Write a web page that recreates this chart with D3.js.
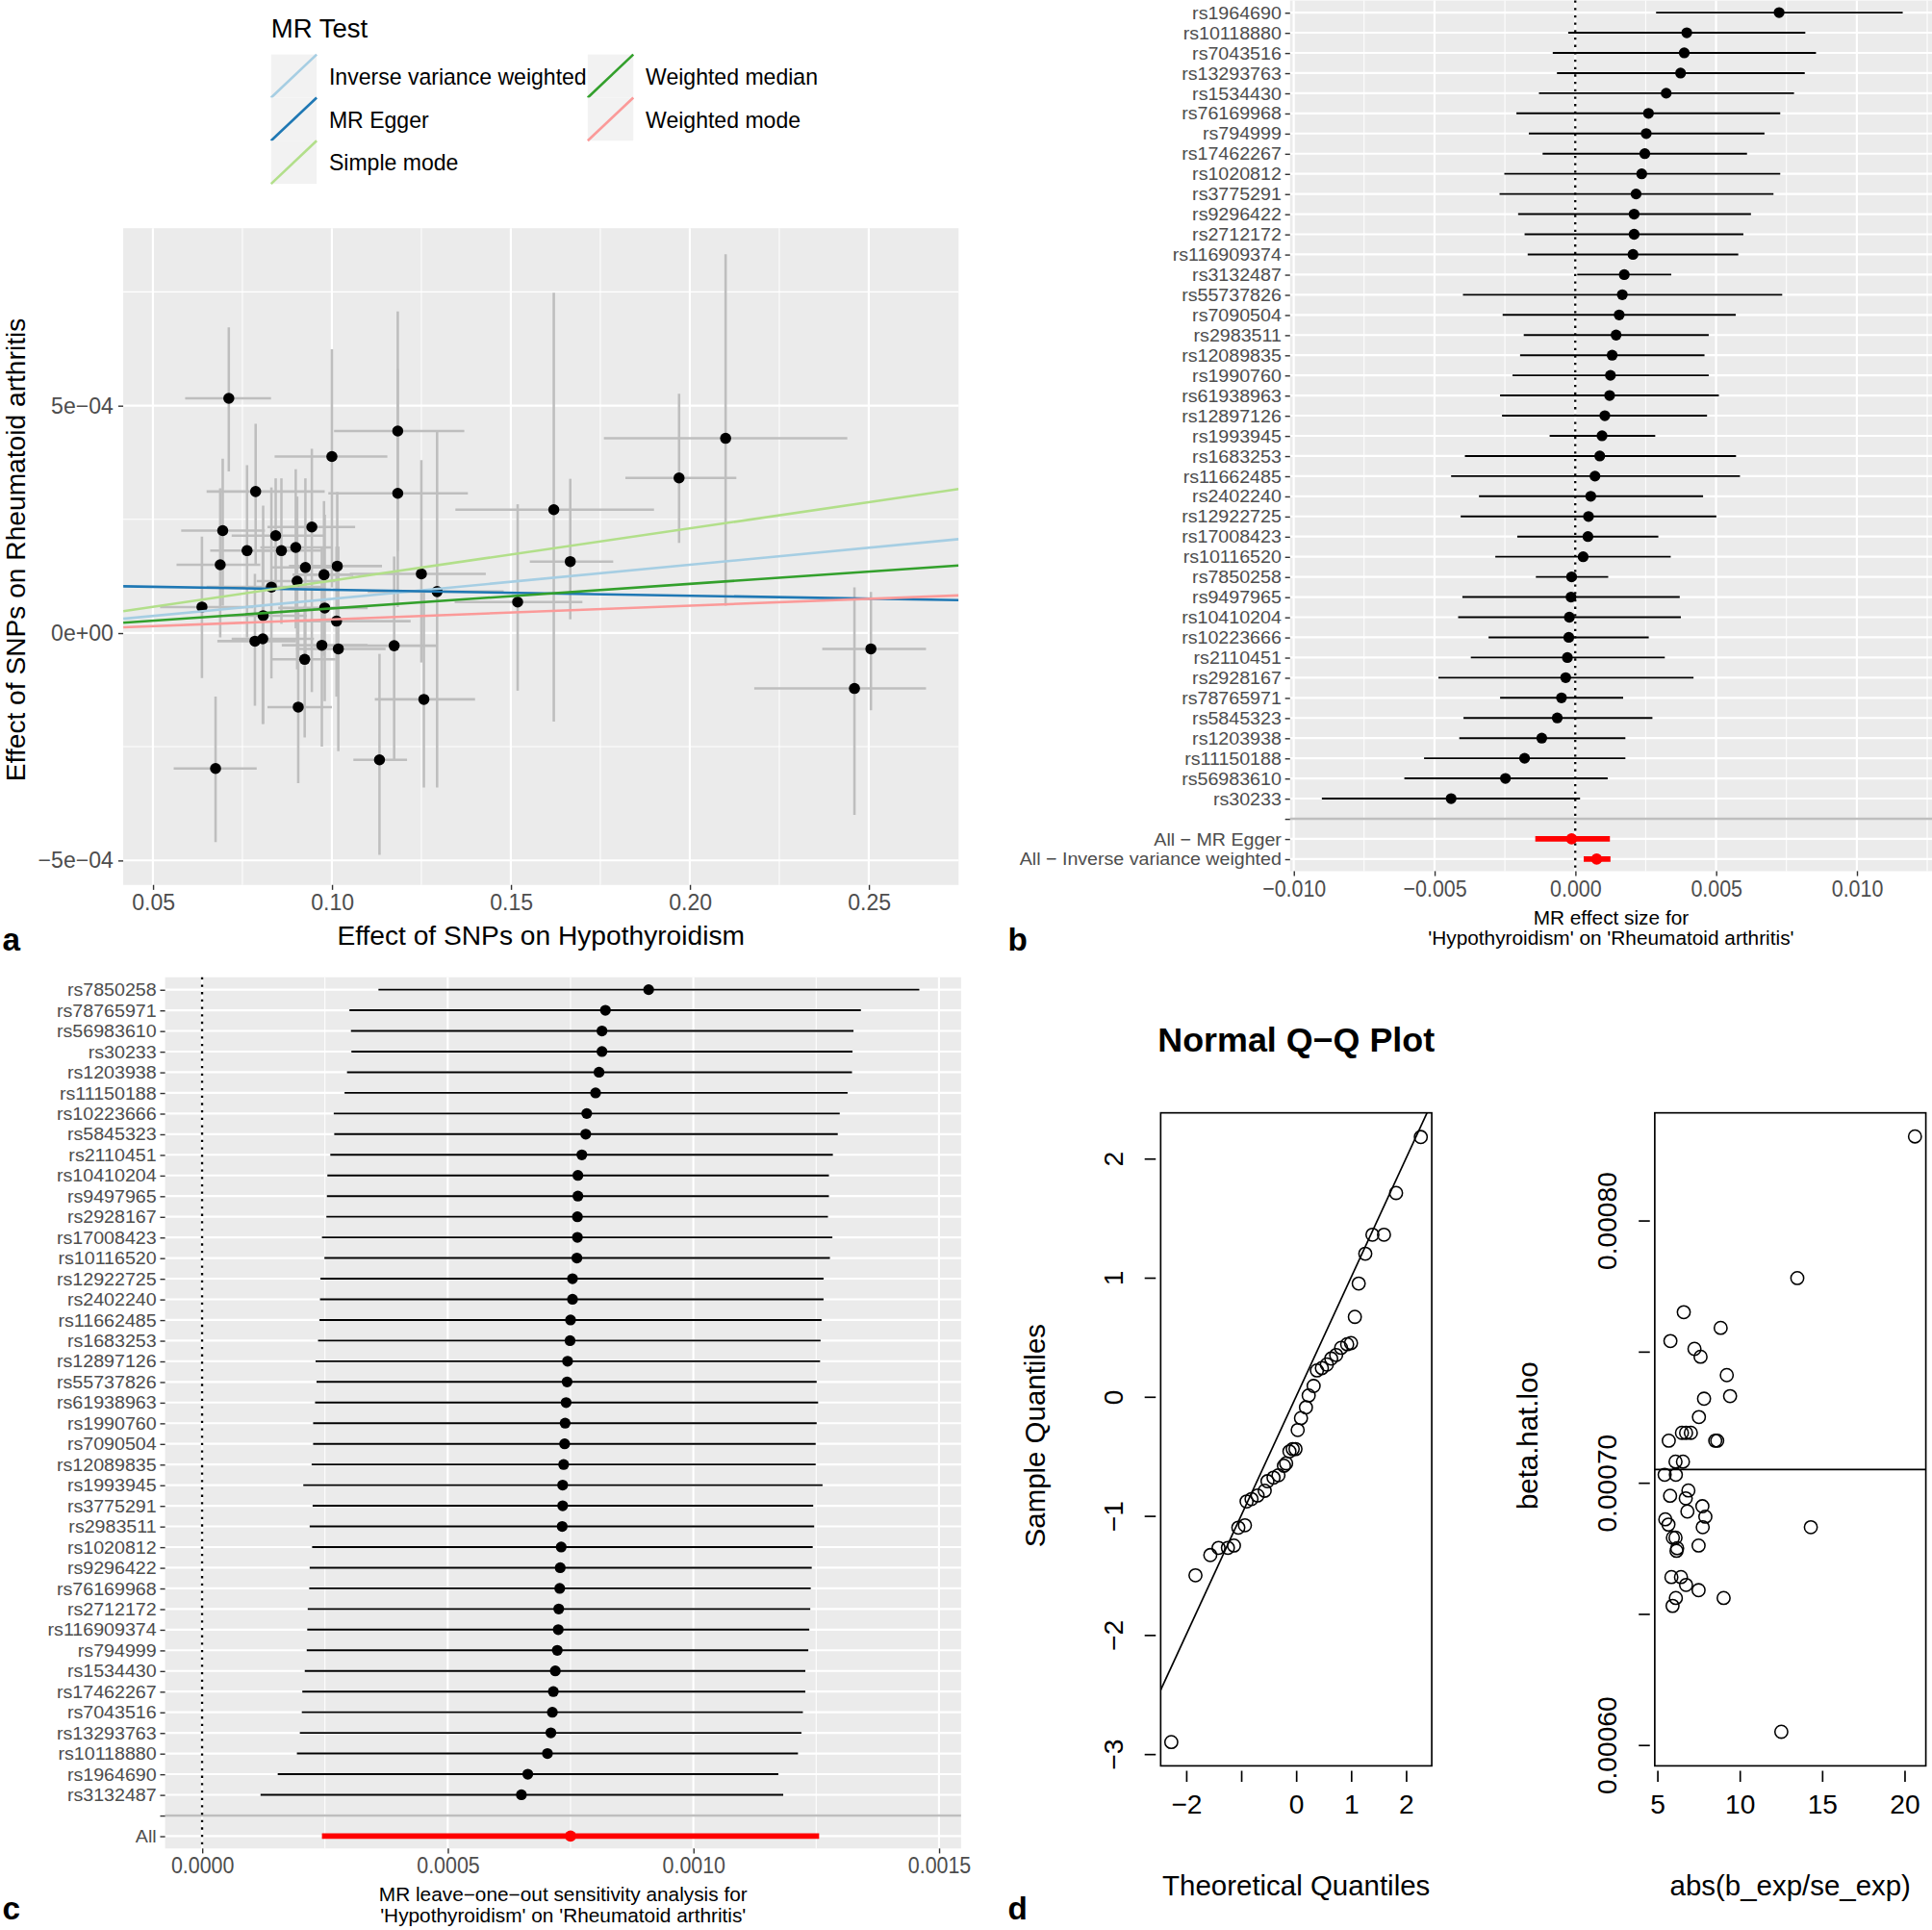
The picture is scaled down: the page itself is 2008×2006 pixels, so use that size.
<!DOCTYPE html>
<html>
<head>
<meta charset="utf-8">
<script src="https://cdn.jsdelivr.net/npm/d3@7"></script>
<style>
  body { margin: 0; background: #fff; }
</style>
</head>
<body>
<svg id="fig" width="2008" height="2006" viewBox="0 0 1568 1566"></svg>
<script>
// ---------- panel a : SNP scatter ----------
const aBx = [0.0712,0.0787,0.100,0.1184,0.1184,0.0695,0.0688,0.0763,0.0843,0.0859,0.0899,0.0944,0.0926,0.0903,0.0978,0.1015,0.0831,0.125,0.1294,0.0637,0.0808,0.098,0.1013,0.0785,0.0807,0.0972,0.1018,0.1174,0.0924,0.162,0.197,0.210,0.1666,0.1519,0.2506,0.246,0.1257,0.1133,0.0675,0.0906];
const aBy = [5.16e-4,3.11e-4,3.88e-4,4.44e-4,3.07e-4,2.25e-4,1.50e-4,1.81e-4,2.14e-4,1.81e-4,1.88e-4,2.33e-4,1.44e-4,1.14e-4,1.28e-4,1.47e-4,1.01e-4,1.30e-4,0.91e-4,0.57e-4,0.38e-4,0.55e-4,0.26e-4,-0.18e-4,-0.13e-4,-0.27e-4,-0.35e-4,-0.28e-4,-0.58e-4,2.71e-4,3.41e-4,4.28e-4,1.57e-4,0.68e-4,-0.35e-4,-1.22e-4,-1.46e-4,-2.79e-4,-2.98e-4,-1.63e-4];
const aXlo = [0.059,0.065,0.084,0.1006,0.099,0.0579,0.0566,0.066,0.072,0.075,0.080,0.082,0.083,0.079,0.089,0.088,0.065,0.105,0.110,0.052,0.070,0.085,0.090,0.068,0.072,0.086,0.090,0.095,0.083,0.1345,0.182,0.176,0.1553,0.1343,0.237,0.218,0.112,0.106,0.0558,0.082];
const aXhi = [0.083,0.098,0.1155,0.137,0.138,0.0813,0.080,0.088,0.098,0.097,0.100,0.1065,0.103,0.101,0.106,0.114,0.098,0.143,0.148,0.078,0.093,0.110,0.122,0.090,0.095,0.110,0.115,0.1293,0.101,0.190,0.213,0.244,0.1786,0.170,0.266,0.266,0.140,0.121,0.079,0.100];
const aYlo = [3.55e-4,1.5e-4,1.0e-4,1.8e-4,0.57e-4,0.6e-4,-0.1e-4,-0.1e-4,1.0e-4,0.2e-4,0.1e-4,-1.3e-4,-0.5e-4,-0.8e-4,-0.5e-4,-0.3e-4,-1.0e-4,-0.65e-4,-3.4e-4,-0.99e-4,-2.0e-4,-1.5e-4,-1.4e-4,-1.6e-4,-2.0e-4,-2.5e-4,-2.6e-4,-2.8e-4,-2.3e-4,-1.95e-4,1.98e-4,0.6e-4,0.3e-4,-1.27e-4,-1.7e-4,-4.0e-4,-3.4e-4,-4.88e-4,-4.6e-4,-3.3e-4];
const aYhi = [6.72e-4,4.6e-4,6.24e-4,7.07e-4,5.8e-4,3.83e-4,3.18e-4,3.69e-4,3.4e-4,3.4e-4,3.6e-4,4.05e-4,3.4e-4,3.0e-4,2.9e-4,3.1e-4,3.2e-4,3.8e-4,4.46e-4,2.12e-4,2.8e-4,2.6e-4,1.9e-4,1.3e-4,1.8e-4,1.9e-4,1.9e-4,1.68e-4,0.6e-4,7.48e-4,5.26e-4,8.33e-4,3.39e-4,2.83e-4,0.9e-4,1.0e-4,0.9e-4,-0.46e-4,-1.4e-4,0.5e-4];

const methodNames = ["Inverse variance weighted","MR Egger","Simple mode","Weighted median","Weighted mode"];
const methodSlope = [7.5e-4, -1.3e-4, 1.15e-3, 5.4e-4, 3.0e-4];
const methodIntercept = [0, 1.08e-4, 0, 0, 0];
const methodColors = ["#a6cee3","#1f78b4","#b2df8a","#33a02c","#fb9a99"];

const aXTicks = [0.05, 0.10, 0.15, 0.20, 0.25];
const aYTicks = [-5e-4, 0, 5e-4];

// ---------- panel b : single SNP forest ----------
const forestSnps = ["rs1964690","rs10118880","rs7043516","rs13293763","rs1534430","rs76169968","rs794999","rs17462267","rs1020812","rs3775291","rs9296422","rs2712172","rs116909374","rs3132487","rs55737826","rs7090504","rs2983511","rs12089835","rs1990760","rs61938963","rs12897126","rs1993945","rs1683253","rs11662485","rs2402240","rs12922725","rs17008423","rs10116520","rs7850258","rs9497965","rs10410204","rs10223666","rs2110451","rs2928167","rs78765971","rs5845323","rs1203938","rs11150188","rs56983610","rs30233"];
const forestB = [0.00724,0.00396,0.00387,0.00374,0.00323,0.0026,0.00252,0.00247,0.00236,0.00216,0.00209,0.00209,0.00205,0.00174,0.00167,0.00156,0.00145,0.00131,0.00125,0.00122,0.00105,0.00095,0.00087,0.0007,0.00055,0.00047,0.00045,0.00028,-0.00013,-0.00015,-0.00021,-0.00023,-0.00028,-0.00034,-0.00049,-0.00064,-0.00119,-0.0018,-0.00248,-0.00441];
const forestLo = [0.00287,-0.00025,-0.0008,-0.00065,-0.00129,-0.00209,-0.00165,-0.00116,-0.00252,-0.00269,-0.00203,-0.0018,-0.00169,0.00007,-0.00399,-0.00258,-0.00183,-0.00196,-0.00223,-0.00267,-0.0026,-0.00091,-0.00392,-0.00441,-0.00342,-0.00407,-0.00206,-0.00284,-0.0014,-0.00401,-0.00416,-0.00308,-0.00371,-0.00486,-0.00267,-0.00397,-0.00412,-0.00537,-0.00607,-0.009];
const forestHi = [0.01163,0.00817,0.00855,0.00815,0.00777,0.00728,0.00672,0.0061,0.00728,0.00704,0.00624,0.00597,0.00579,0.00341,0.00735,0.0057,0.00474,0.00459,0.00474,0.0051,0.00468,0.00284,0.00571,0.00585,0.00454,0.00501,0.00295,0.00339,0.00117,0.00371,0.00375,0.00261,0.00318,0.0042,0.0017,0.00274,0.00178,0.00178,0.00115,0.00017];
const allMethods = ["All \u2212 MR Egger","All \u2212 Inverse variance weighted"];
const allB = [-0.00013, 0.00076];
const allLo = [-0.00142, 0.0003];
const allHi = [0.00123, 0.00125];
const bXTicks = [-0.010, -0.005, 0, 0.005, 0.010];

// ---------- panel c : leave-one-out ----------
const looSnps = ["rs7850258","rs78765971","rs56983610","rs30233","rs1203938","rs11150188","rs10223666","rs5845323","rs2110451","rs10410204","rs9497965","rs2928167","rs17008423","rs10116520","rs12922725","rs2402240","rs11662485","rs1683253","rs12897126","rs55737826","rs61938963","rs1990760","rs7090504","rs12089835","rs1993945","rs3775291","rs2983511","rs1020812","rs9296422","rs76169968","rs2712172","rs116909374","rs794999","rs1534430","rs17462267","rs7043516","rs13293763","rs10118880","rs1964690","rs3132487"];
const looB = [0.000909,0.000821,0.000814,0.000814,0.000808,0.000801,0.000783,0.000781,0.000773,0.000765,0.000765,0.000764,0.000764,0.000763,0.000754,0.000754,0.00075,0.000749,0.000744,0.000743,0.000741,0.000739,0.000738,0.000736,0.000734,0.000734,0.000733,0.000731,0.000729,0.000728,0.000726,0.000725,0.000723,0.000719,0.000715,0.000713,0.00071,0.000703,0.000663,0.00065];
const looLo = [0.000359,0.0003,0.000303,0.000304,0.000295,0.00029,0.000268,0.000269,0.000261,0.000255,0.000254,0.000253,0.000244,0.000249,0.000241,0.00024,0.000239,0.000236,0.000231,0.000233,0.00023,0.000226,0.000226,0.000223,0.000206,0.000225,0.000219,0.000224,0.000219,0.000218,0.000215,0.000214,0.000213,0.000209,0.000204,0.000203,0.000199,0.000193,0.000154,0.000119];
const looHi = [0.00146,0.001341,0.001326,0.001324,0.001323,0.001314,0.001298,0.001294,0.001284,0.001276,0.001276,0.001274,0.001283,0.001278,0.001265,0.001265,0.001261,0.001259,0.001258,0.001251,0.001254,0.001251,0.001249,0.001249,0.001263,0.001244,0.001246,0.001243,0.001241,0.001239,0.001238,0.001236,0.001234,0.001228,0.001228,0.001223,0.00122,0.001213,0.001173,0.001183];
const looAll = ["All"];
const looAllB = [0.00075], looAllLo = [0.000244], looAllHi = [0.001256];
const cXTicks = [0, 0.0005, 0.0010, 0.0015];

// ---------- panel d : normal QQ and beta.hat.loo scatter ----------
const qqTheo = [-2.27,-1.83,-1.56,-1.41,-1.24,-1.13,-1.05,-0.93,-0.90,-0.81,-0.70,-0.57,-0.52,-0.41,-0.32,-0.22,-0.18,-0.12,-0.06,-0.01,0.03,0.09,0.18,0.23,0.32,0.38,0.47,0.56,0.64,0.73,0.82,0.93,1.00,1.07,1.14,1.26,1.39,1.60,1.82,2.27];
const qqSample = [-2.90,-1.50,-1.33,-1.27,-1.27,-1.25,-1.10,-1.08,-0.88,-0.86,-0.83,-0.79,-0.71,-0.68,-0.66,-0.58,-0.56,-0.46,-0.44,-0.44,-0.28,-0.18,-0.09,0.01,0.09,0.22,0.24,0.27,0.32,0.35,0.41,0.44,0.45,0.67,0.95,1.20,1.36,1.36,1.71,2.18];
const qqIntercept = 0.0, qqSlope = 1.0;
const qqXTicks = [-2,-1,0,1,2], qqXLabels = ["\u22122","","0","1","2"];
const qqYTicks = [-3,-2,-1,0,1,2], qqYLabels = ["\u22123","\u22122","\u22121","0","1","2"];

const fStat = [20.64,13.5,6.61,8.85,5.80,7.26,7.63,9.22,9.42,7.84,7.53,5.70,6.50,6.75,7.04,8.52,8.64,6.11,6.56,5.45,6.13,6.89,5.78,6.73,6.83,7.74,7.92,7.76,5.49,5.68,5.95,6.11,6.21,6.17,7.51,14.32,5.86,6.44,6.75,7.51,6.13,5.93,9.03,12.53];
const betaLoo = [0.000832,0.000778,0.000765,0.000759,0.000754,0.000751,0.000748,0.000741,0.000733,0.000732,0.000725,0.000716,0.000719,0.000719,0.000719,0.000716,0.000716,0.000708,0.000708,0.000703,0.000703,0.000697,0.000695,0.000694,0.000689,0.000691,0.000687,0.000683,0.000686,0.000684,0.000679,0.000679,0.000675,0.000674,0.000676,0.000683,0.000664,0.000664,0.000661,0.000659,0.000656,0.000653,0.000656,0.000605];
const betaAll = 0.000705;
const dXTicks = [5,10,15,20];
const dYTicks = [0.0006,0.00065,0.0007,0.00075,0.0008], dYLabels = ["0.00060","","0.00070","","0.00080"];

// ---------------------------------------------------------------
const svg = d3.select("#fig");
const SANS = "'Liberation Sans', Arial, sans-serif";
const minus = s => s.replace(/-/g, "\u2212");

// k = horizontal squeeze/stretch of tick text (there is no narrow face installed)
function styleGG(g, size, k) {
    g.attr("font-size", size).attr("font-family", SANS);
    g.select(".domain").remove();
    g.selectAll(".tick line").attr("stroke", "#333333").attr("stroke-width", 1.1);
    let t = g.selectAll(".tick text").attr("fill", "#4d4d4d");
    if (k && k !== 1) {
        t.attr("x", function() { return (+this.getAttribute("x") || 0) / k; })
         .attr("transform", "scale(" + k + ",1)");
    }
}

function squeezedLabel(g, x, y, txt, size, k) {
    return g.append("text").attr("transform", "translate(" + x + "," + y + ") scale(" + k + ",1)")
        .attr("text-anchor", "middle").attr("font-family", SANS).attr("font-size", size).text(txt);
}

function sciLabel(d) {
    if (d === 0) return "0e+00";
    let e = Math.floor(Math.log10(Math.abs(d)));
    let m = Math.round(Math.abs(d) / Math.pow(10, e));
    return (d < 0 ? "\u2212" : "") + m + "e" + (e < 0 ? "\u2212" : "+") + String(Math.abs(e)).padStart(2, "0");
}

// ===================== panel a =====================
let ax = d3.scaleLinear().domain([0.0417, 0.2751]).range([100, 778]);
let ay = d3.scaleLinear().domain([-5.54e-4, 8.90e-4]).range([718, 185]);

let pa = svg.append("g");
pa.append("rect").attr("x", 100).attr("y", 185).attr("width", 678).attr("height", 533).attr("fill", "#ebebeb");

let defs = svg.append("defs");
defs.append("clipPath").attr("id", "clipA")
    .append("rect").attr("x", 100).attr("y", 185).attr("width", 678).attr("height", 533);

// minor + major grid
pa.selectAll(".ayminor").data([-2.5e-4, 2.5e-4, 7.5e-4]).enter().append("line")
    .attr("x1", 100).attr("x2", 778).attr("y1", d => ay(d)).attr("y2", d => ay(d))
    .attr("stroke", "#fff").attr("stroke-width", 0.8);
pa.selectAll(".axminor").data([0.075, 0.125, 0.175, 0.225]).enter().append("line")
    .attr("y1", 185).attr("y2", 718).attr("x1", d => ax(d)).attr("x2", d => ax(d))
    .attr("stroke", "#fff").attr("stroke-width", 0.8);
pa.selectAll(".aymajor").data(aYTicks).enter().append("line")
    .attr("x1", 100).attr("x2", 778).attr("y1", d => ay(d)).attr("y2", d => ay(d))
    .attr("stroke", "#fff").attr("stroke-width", 1.7);
pa.selectAll(".axmajor").data(aXTicks).enter().append("line")
    .attr("y1", 185).attr("y2", 718).attr("x1", d => ax(d)).attr("x2", d => ax(d))
    .attr("stroke", "#fff").attr("stroke-width", 1.7);

let aIdx = d3.range(aBx.length);
let plotA = pa.append("g").attr("clip-path", "url(#clipA)");
plotA.selectAll(".ev").data(aIdx).enter().append("line")
    .attr("x1", i => ax(aBx[i])).attr("x2", i => ax(aBx[i]))
    .attr("y1", i => ay(aYlo[i])).attr("y2", i => ay(aYhi[i]))
    .attr("stroke", "#bebebe").attr("stroke-width", 2);
plotA.selectAll(".eh").data(aIdx).enter().append("line")
    .attr("y1", i => ay(aBy[i])).attr("y2", i => ay(aBy[i]))
    .attr("x1", i => ax(aXlo[i])).attr("x2", i => ax(aXhi[i]))
    .attr("stroke", "#bebebe").attr("stroke-width", 2);
plotA.selectAll(".pt").data(aIdx).enter().append("circle")
    .attr("cx", i => ax(aBx[i])).attr("cy", i => ay(aBy[i])).attr("r", 4.5).attr("fill", "#000");

let xd = ax.domain();
plotA.selectAll(".mr").data(d3.range(methodNames.length)).enter().append("line")
    .attr("x1", ax(xd[0])).attr("x2", ax(xd[1]))
    .attr("y1", i => ay(methodIntercept[i] + methodSlope[i] * xd[0]))
    .attr("y2", i => ay(methodIntercept[i] + methodSlope[i] * xd[1]))
    .attr("stroke", i => methodColors[i]).attr("stroke-width", 2);

pa.append("g").attr("transform", "translate(0,718)")
    .call(d3.axisBottom(ax).tickValues(aXTicks).tickFormat(d3.format(".2f")).tickSize(4).tickPadding(4))
    .call(g => styleGG(g, 18, 1));
pa.append("g").attr("transform", "translate(100,0)")
    .call(d3.axisLeft(ay).tickValues(aYTicks).tickFormat(sciLabel).tickSize(4).tickPadding(4))
    .call(g => styleGG(g, 18, 1));

pa.append("text").attr("x", 439).attr("y", 767).attr("text-anchor", "middle")
    .attr("font-family", SANS).attr("font-size", 22).text("Effect of SNPs on Hypothyroidism");
pa.append("text").attr("transform", "translate(20,446) rotate(-90)").attr("text-anchor", "middle")
    .attr("font-family", SANS).attr("font-size", 22).text("Effect of SNPs on Rheumatoid arthritis");

// legend
let leg = pa.append("g");
leg.append("text").attr("x", 220).attr("y", 30).attr("font-family", SANS).attr("font-size", 21.5).text("MR Test");
let items = leg.selectAll(".li").data(d3.range(methodNames.length)).enter().append("g")
    .attr("transform", i => "translate(" + (220 + Math.floor(i / 3) * 257) + "," + (44 + (i % 3) * 35) + ")");
items.append("rect").attr("width", 37).attr("height", 35).attr("fill", "#f2f2f2");
items.append("line").attr("x1", 0).attr("y1", 35).attr("x2", 37).attr("y2", 0)
    .attr("stroke", i => methodColors[i]).attr("stroke-width", 2);
items.append("text").attr("x", 47).attr("y", 18).attr("dy", "0.35em")
    .attr("font-family", SANS).attr("font-size", 18).text(i => methodNames[i]);

// ===================== forest helper (panels b, c) =====================
function forest(opts) {
    let g = svg.append("g");
    let rows = opts.names.concat([""]).concat(opts.allNames);
    let y = d3.scalePoint().domain(rows).range(opts.yRange);
    let step = y.step();
    let top = opts.yRange[0] - 0.6 * step, bottom = opts.yRange[1] + 0.6 * step;
    let x = d3.scaleLinear().domain(opts.xDomain).range(opts.xRange);

    g.append("rect").attr("x", opts.xRange[0]).attr("y", top)
        .attr("width", opts.xRange[1] - opts.xRange[0]).attr("height", bottom - top).attr("fill", "#ebebeb");

    g.selectAll(".vminor").data(opts.minor).enter().append("line")
        .attr("x1", d => x(d)).attr("x2", d => x(d)).attr("y1", top).attr("y2", bottom)
        .attr("stroke", "#fff").attr("stroke-width", 0.8);
    g.selectAll(".vmajor").data(opts.ticks).enter().append("line")
        .attr("x1", d => x(d)).attr("x2", d => x(d)).attr("y1", top).attr("y2", bottom)
        .attr("stroke", "#fff").attr("stroke-width", 1.7);
    g.selectAll(".hmajor").data(rows).enter().append("line")
        .attr("x1", opts.xRange[0]).attr("x2", opts.xRange[1]).attr("y1", d => y(d)).attr("y2", d => y(d))
        .attr("stroke", "#fff").attr("stroke-width", 1.7);

    // separator row
    g.append("line").attr("x1", opts.xRange[0]).attr("x2", opts.xRange[1]).attr("y1", y("")).attr("y2", y(""))
        .attr("stroke", "#bebebe").attr("stroke-width", 2);
    // zero line
    g.append("line").attr("x1", x(0)).attr("x2", x(0)).attr("y1", top).attr("y2", bottom)
        .attr("stroke", "#000").attr("stroke-width", 1.8).attr("stroke-dasharray", "1.8,4.2");

    let idx = d3.range(opts.names.length);
    g.selectAll(".ci").data(idx).enter().append("line")
        .attr("x1", i => x(opts.lo[i])).attr("x2", i => x(opts.hi[i]))
        .attr("y1", i => y(opts.names[i])).attr("y2", i => y(opts.names[i]))
        .attr("stroke", "#000").attr("stroke-width", 1.5);
    g.selectAll(".pt").data(idx).enter().append("circle")
        .attr("cx", i => x(opts.b[i])).attr("cy", i => y(opts.names[i])).attr("r", 4.4).attr("fill", "#000");

    let aidx = d3.range(opts.allNames.length);
    g.selectAll(".ciAll").data(aidx).enter().append("line")
        .attr("x1", i => x(opts.allLo[i])).attr("x2", i => x(opts.allHi[i]))
        .attr("y1", i => y(opts.allNames[i])).attr("y2", i => y(opts.allNames[i]))
        .attr("stroke", "#ff0000").attr("stroke-width", 4.5);
    g.selectAll(".ptAll").data(aidx).enter().append("circle")
        .attr("cx", i => x(opts.allB[i])).attr("cy", i => y(opts.allNames[i])).attr("r", 4.6).attr("fill", "#ff0000");

    // row labels kept small enough to fit one row each
    g.append("g").attr("transform", "translate(" + opts.xRange[0] + ",0)")
        .call(d3.axisLeft(y).tickSize(4).tickPadding(3))
        .call(a => styleGG(a, 14.6, 1.05));
    g.append("g").attr("transform", "translate(0," + bottom + ")")
        .call(d3.axisBottom(x).tickValues(opts.ticks).tickFormat(d => minus(opts.fmt(d))).tickSize(4).tickPadding(3))
        .call(a => styleGG(a, 19, 0.88));

    let cx = (opts.xRange[0] + opts.xRange[1]) / 2;
    opts.title.forEach((t, k) => squeezedLabel(g, cx, bottom + 43 + k * 17, t, 15.2, 1.07));
}

forest({
    names: forestSnps, b: forestB, lo: forestLo, hi: forestHi,
    allNames: allMethods, allB: allB, allLo: allLo, allHi: allHi,
    yRange: [10, 697], xRange: [1047, 1568], xDomain: [-0.01013, 0.01267],
    ticks: bXTicks, minor: [-0.0075, -0.0025, 0.0025, 0.0075, 0.0125], fmt: d3.format(".3f"),
    title: ["MR effect size for", "'Hypothyroidism' on 'Rheumatoid arthritis'"]
});

forest({
    names: looSnps, b: looB, lo: looLo, hi: looHi,
    allNames: looAll, allB: looAllB, allLo: looAllLo, allHi: looAllHi,
    yRange: [803, 1490], xRange: [134, 780], xDomain: [-0.0000753, 0.001545],
    ticks: cXTicks, minor: [0.00025, 0.00075, 0.00125], fmt: d3.format(".4f"),
    title: ["MR leave\u2212one\u2212out sensitivity analysis for", "'Hypothyroidism' on 'Rheumatoid arthritis'"]
});

// ===================== panel d (base R style) =====================
function baseBox(box) {
    let g = svg.append("g");
    g.append("rect").attr("x", box[0]).attr("y", box[1]).attr("width", box[2] - box[0]).attr("height", box[3] - box[1])
        .attr("fill", "none").attr("stroke", "#000").attr("stroke-width", 1.3);
    return g;
}

function rAxes(g, x, y, box, xt, xl, yt, yl) {
    let gx = g.append("g").attr("transform", "translate(0," + (box[3] + 4) + ")")
        .call(d3.axisBottom(x).tickValues(xt).tickFormat((d, i) => xl[i]).tickSize(9).tickPadding(10));
    gx.attr("font-size", 22).attr("font-family", SANS);
    gx.select(".domain").remove();
    gx.selectAll(".tick line").attr("stroke", "#000").attr("stroke-width", 1.3);
    gx.selectAll(".tick text").attr("fill", "#000");

    let gy = g.append("g").attr("transform", "translate(" + (box[0] - 4) + ",0)")
        .call(d3.axisLeft(y).tickValues(yt).tickFormat((d, i) => yl[i]).tickSize(9).tickPadding(10));
    gy.attr("font-size", 22).attr("font-family", SANS);
    gy.select(".domain").remove();
    gy.selectAll(".tick line").attr("stroke", "#000").attr("stroke-width", 1.3);
    gy.selectAll(".tick text").attr("fill", "#000")
        .attr("x", 0).attr("dy", 0).attr("text-anchor", "middle")
        .attr("transform", "translate(-27,0) rotate(-90)");
}

svg.append("text").attr("x", 1052).attr("y", 853).attr("text-anchor", "middle")
    .attr("font-family", SANS).attr("font-weight", "bold").attr("font-size", 28).text("Normal Q\u2212Q Plot");

// QQ plot
let qBox = [942, 903, 1162, 1433];
let qx = d3.scaleLinear().domain([-2.463, 2.469]).range([qBox[0], qBox[2]]);
let qy = d3.scaleLinear().domain([-3.10, 2.383]).range([qBox[3], qBox[1]]);
let gq = baseBox(qBox);
defs.append("clipPath").attr("id", "clipQ")
    .append("rect").attr("x", qBox[0]).attr("y", qBox[1]).attr("width", qBox[2] - qBox[0]).attr("height", qBox[3] - qBox[1]);
let qd = qx.domain();
let qqLine = t => qqIntercept + qqSlope * t;
gq.append("line").attr("clip-path", "url(#clipQ)")
    .attr("x1", qx(qd[0])).attr("y1", qy(qqLine(qd[0])))
    .attr("x2", qx(qd[1])).attr("y2", qy(qqLine(qd[1])))
    .attr("stroke", "#000").attr("stroke-width", 1.3);
gq.selectAll(".qq").data(d3.range(qqTheo.length)).enter().append("circle")
    .attr("cx", i => qx(qqTheo[i])).attr("cy", i => qy(qqSample[i])).attr("r", 5.2)
    .attr("fill", "none").attr("stroke", "#000").attr("stroke-width", 1.2);
rAxes(gq, qx, qy, qBox, qqXTicks, qqXLabels, qqYTicks, qqYLabels);
gq.append("text").attr("x", 1052).attr("y", 1538).attr("text-anchor", "middle")
    .attr("font-family", SANS).attr("font-size", 23).text("Theoretical Quantiles");
gq.append("text").attr("transform", "translate(848,1165) rotate(-90)").attr("text-anchor", "middle")
    .attr("font-family", SANS).attr("font-size", 23).text("Sample Quantiles");

// beta.hat.loo scatter
let sBox = [1343, 903, 1563, 1433];
let sx = d3.scaleLinear().domain([4.85, 21.3]).range([sBox[0], sBox[2]]);
let sy = d3.scaleLinear().domain([0.000592, 0.000841]).range([sBox[3], sBox[1]]);
let gs = baseBox(sBox);
gs.append("line").attr("x1", sBox[0]).attr("x2", sBox[2]).attr("y1", sy(betaAll)).attr("y2", sy(betaAll))
    .attr("stroke", "#000").attr("stroke-width", 1.3);
gs.selectAll(".sp").data(d3.range(fStat.length)).enter().append("circle")
    .attr("cx", i => sx(fStat[i])).attr("cy", i => sy(betaLoo[i])).attr("r", 5.2)
    .attr("fill", "none").attr("stroke", "#000").attr("stroke-width", 1.2);
rAxes(gs, sx, sy, sBox, dXTicks, dXTicks.map(String), dYTicks, dYLabels);
gs.append("text").attr("x", 1453).attr("y", 1538).attr("text-anchor", "middle")
    .attr("font-family", SANS).attr("font-size", 23).text("abs(b_exp/se_exp)");
gs.append("text").attr("transform", "translate(1248,1165) rotate(-90)").attr("text-anchor", "middle")
    .attr("font-family", SANS).attr("font-size", 23).text("beta.hat.loo");

// panel letters
[["a", 2, 771], ["b", 818, 771], ["c", 2, 1558], ["d", 818, 1558]].forEach(p => {
    svg.append("text").attr("x", p[1]).attr("y", p[2]).attr("font-family", SANS)
        .attr("font-weight", "bold").attr("font-size", 26).text(p[0]);
});
</script>
</body>
</html>
